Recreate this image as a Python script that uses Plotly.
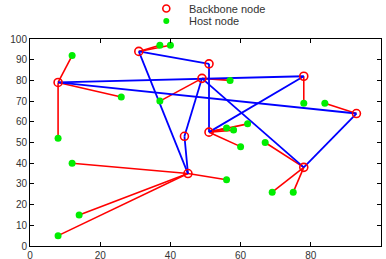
import plotly.graph_objects as go

# Backbone nodes
bb_x = [8, 31, 51, 49, 78, 93, 51, 44, 45, 78]
bb_y = [79, 94, 88, 81, 82, 64, 55, 53, 35, 38]

# Host nodes
host_x = [12, 26, 8, 37, 40, 37, 57, 78, 84, 56, 58, 62, 60, 67, 12, 56, 14, 8, 69, 75]
host_y = [92, 72, 52, 97, 97, 70, 80, 69, 69, 57, 56, 59, 48, 50, 40, 32, 15, 5, 26, 26]
# backbone index each host attaches to
host_parent = [0, 0, 0, 1, 1, 3, 3, 4, 5, 6, 6, 6, 6, 9, 8, 8, 8, 8, 9, 9]

# Backbone links (pairs of backbone indices)
bb_links = [(1, 2), (1, 8), (2, 6), (0, 4), (0, 5), (3, 7), (7, 8), (3, 9), (4, 6), (5, 9)]

x_ticks = [0, 20, 40, 60, 80, 100]
y_ticks = [0, 10, 20, 30, 40, 50, 60, 70, 80, 90, 100]
legend_labels = ["Backbone node", "Host node"]

RED = "#ff0000"
BLUE = "#0000ff"
GREEN = "#00ee00"

red_x, red_y = [], []
for h, p in enumerate(host_parent):
    red_x += [host_x[h], bb_x[p], None]
    red_y += [host_y[h], bb_y[p], None]

blue_x, blue_y = [], []
for a, b in bb_links:
    blue_x += [bb_x[a], bb_x[b], None]
    blue_y += [bb_y[a], bb_y[b], None]

fig = go.Figure()
fig.add_trace(go.Scatter(x=red_x, y=red_y, mode="lines", line=dict(color=RED, width=1.6),
                         showlegend=False, hoverinfo="skip"))
fig.add_trace(go.Scatter(x=blue_x, y=blue_y, mode="lines", line=dict(color=BLUE, width=1.8),
                         showlegend=False, hoverinfo="skip"))
fig.add_trace(go.Scatter(x=host_x, y=host_y, mode="markers", name=legend_labels[1],
                         showlegend=False,
                         marker=dict(symbol="circle", size=7, color=GREEN, line=dict(width=0))))
fig.add_trace(go.Scatter(x=bb_x, y=bb_y, mode="markers", name=legend_labels[0],
                         showlegend=False,
                         marker=dict(symbol="circle-open", size=8, color=RED,
                                     line=dict(width=1.6, color=RED))))

# Legend (top centre, above the axes)
PW, PH = 351.5, 207.5
lx = (166 - 29.5) / PW
tx = (187 - 29.5) / PW
rows_y = [(246 - 8) / PH, (246 - 20.5) / PH]
shapes = [
    dict(type="circle", xref="paper", yref="paper", xsizemode="pixel", ysizemode="pixel",
         xanchor=lx, yanchor=rows_y[0], x0=-3.5, x1=3.5, y0=-3.5, y1=3.5,
         line=dict(color=RED, width=1.6), fillcolor="rgba(0,0,0,0)"),
    dict(type="circle", xref="paper", yref="paper", xsizemode="pixel", ysizemode="pixel",
         xanchor=lx, yanchor=rows_y[1], x0=-3, x1=3, y0=-3, y1=3,
         line=dict(color=GREEN, width=0), fillcolor=GREEN),
]
annotations = [
    dict(text=legend_labels[i], xref="paper", yref="paper", x=tx, y=rows_y[i],
         xanchor="left", yanchor="middle", showarrow=False,
         font=dict(size=11, color="#333333"))
    for i in range(2)
]

axis_common = dict(showline=True, linecolor="black", linewidth=1, mirror="ticks",
                   ticks="inside", ticklen=4, tickcolor="black", showgrid=False,
                   zeroline=False, automargin=False,
                   tickfont=dict(size=10, color="#333333"))

fig.update_layout(
    width=386, height=259,
    margin=dict(l=29.5, r=5, t=38.5, b=13),
    paper_bgcolor="white", plot_bgcolor="white",
    font=dict(family="Arial, Liberation Sans, sans-serif", size=10, color="#333333"),
    xaxis=dict(range=[0, 100], tickvals=x_ticks, ticktext=[str(v) for v in x_ticks], **axis_common),
    yaxis=dict(range=[0, 100], tickvals=y_ticks, ticktext=[str(v) for v in y_ticks], **axis_common),
    shapes=shapes,
    annotations=annotations,
    showlegend=False,
)
fig.write_html("out.html", config={"displayModeBar": False},
               post_script="document.body.style.margin='0px';")
